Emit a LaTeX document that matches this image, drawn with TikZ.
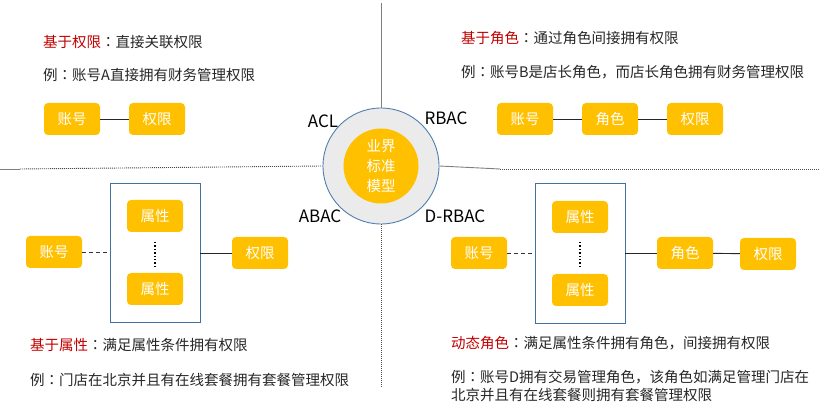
\documentclass[tikz,border=0pt]{standalone}
\usepackage{fontspec}
\setmainfont{Noto Sans CJK SC}
\newfontfamily\cjk{Noto Sans CJK SC}
\newfontfamily\cjkmid{Noto Sans CJK TC}
% full-width colon set in the middle of its cell
\newcommand{\midcolon}{{\cjkmid ：}}
\usetikzlibrary{positioning}
\definecolor{gold}{HTML}{FFC000}
\definecolor{keyred}{HTML}{C00000}
\definecolor{ringgray}{HTML}{EBEBEB}
\definecolor{ringblue}{HTML}{4F7FB0}
\definecolor{framblue}{HTML}{41719C}
\definecolor{axisgray}{HTML}{7F7F7F}
\tikzset{
  pill/.style={fill=gold, rounded corners=4pt, minimum width=56pt, minimum height=32pt,
    inner sep=0pt, text=white, font=\cjk\fontsize{14.5}{14.5}\selectfont},
  caption/.style={anchor=west, inner sep=0pt, font=\cjk\fontsize{14.5}{17.5}\selectfont, text=black!85},
  model/.style={inner sep=0pt, font=\cjk\fontsize{17}{17}\selectfont, text=black},
  link/.style={draw=black!85, line width=0.9pt},
  dashlink/.style={draw=black!80, line width=0.9pt, dash pattern=on 4pt off 3pt},
  frame/.style={draw=framblue, line width=0.9pt},
  axis/.style={draw=axisgray, line width=0.9pt},
  axisdot/.style={draw=black!70, line width=0.9pt, dash pattern=on 1pt off 1pt},
  ellipsis/.style={draw=black, line width=1.4pt, dash pattern=on 1.4pt off 2pt},
}
\begin{document}
\begin{tikzpicture}[x=1pt, y=-1pt]
\useasboundingbox (0,0) rectangle (828,406);

% quadrant axes
\coordinate (axL) at (0,169);
\coordinate (axLs) at (20,169);
\coordinate (axR) at (820,169);
\coordinate (axRs) at (500,169);
\coordinate (axT) at (381,3);
\coordinate (axB) at (381,388);

% centre ring
\node[circle, draw=ringblue, line width=0.9pt, fill=ringgray, minimum size=116pt, inner sep=0pt] (ring) at (381,166) {};
\node[circle, fill=gold, minimum size=75pt, inner sep=0pt, text=white, align=center,
  font=\cjk\fontsize{14.5}{20}\selectfont] (core) at (381,166) {业界\\标准\\模型};

\draw[axis] (axT) -- (ring.north);
\draw[axisdot] (ring.south) -- (axB);
\draw[axis] (axL) -- (axLs);
\draw[axisdot] (axLs) -- (ring.west);
\draw[axis] (ring.east) -- (axRs);
\draw[axisdot] (axRs) -- (axR);

% model names
\node[model] (acl) at (323,121) {ACL};
\node[model] (rbac) at (446,118) {RBAC};
\node[model] (abac) at (320,216) {ABAC};
\node[model] (drbac) at (455,216) {D-RBAC};

% ACL quadrant
\node[caption] (t1) at (43,42) {\textcolor{keyred}{基于权限}\midcolon 直接关联权限};
\node[caption] (e1) at (43,75) {例\midcolon 账号A直接拥有财务管理权限};
\node[pill] (a1) at (72,119) {账号};
\node[pill] (p1) at (157,119) {权限};
\draw[link] (a1) -- (p1);

% RBAC quadrant
\node[caption] (t2) at (461,38) {\textcolor{keyred}{基于角色}\midcolon 通过角色间接拥有权限};
\node[caption] (e2) at (461,72) {例\midcolon 账号B是店长角色，而店长角色拥有财务管理权限};
\node[pill] (a2) at (525,119) {账号};
\node[pill] (r2) at (610,119) {角色};
\node[pill] (p2) at (695,119) {权限};
\draw[link] (a2) -- (r2);
\draw[link] (r2) -- (p2);

% ABAC quadrant
\node[frame, minimum width=90pt, minimum height=139pt, inner sep=0pt] (g3) at (155,252.5) {};
\node[pill] (s3a) at (155,216) {属性};
\node[pill] (s3b) at (155,289) {属性};
\coordinate (d3a) at (155,242);
\coordinate (d3b) at (155,266);
\draw[ellipsis] (d3a) -- (d3b);
\node[pill] (a3) at (54,252) {账号};
\node[pill] (p3) at (260,253) {权限};
\draw[dashlink] (a3.east) -- (a3.east -| g3.west);
\draw[link] (g3.east |- p3) -- (p3.west);
\node[caption] (t3) at (30,345) {\textcolor{keyred}{基于属性}\midcolon 满足属性条件拥有权限};
\node[caption] (e3) at (30,380) {例\midcolon 门店在北京并且有在线套餐拥有套餐管理权限};

% D-RBAC quadrant
\node[frame, minimum width=90pt, minimum height=140pt, inner sep=0pt] (g4) at (580,253) {};
\node[pill] (s4a) at (580,217) {属性};
\node[pill] (s4b) at (580,290) {属性};
\coordinate (d4a) at (580,242);
\coordinate (d4b) at (580,266);
\draw[ellipsis] (d4a) -- (d4b);
\node[pill] (a4) at (479,253) {账号};
\node[pill] (r4) at (685,253) {角色};
\node[pill] (p4) at (768,254) {权限};
\draw[dashlink] (a4.east) -- (a4.east -| g4.west);
\draw[link] (g4.east |- r4) -- (r4.west);
\draw[link] (r4) -- (p4);
\node[caption] (t4) at (451,343) {\textcolor{keyred}{动态角色}\midcolon 满足属性条件拥有角色，间接拥有权限};
\node[caption, align=left, anchor=north west] (e4) at (451,370) {例\midcolon 账号D拥有交易管理角色，该角色如满足管理门店在\\北京并且有在线套餐则拥有套餐管理权限};
\end{tikzpicture}
\end{document}
